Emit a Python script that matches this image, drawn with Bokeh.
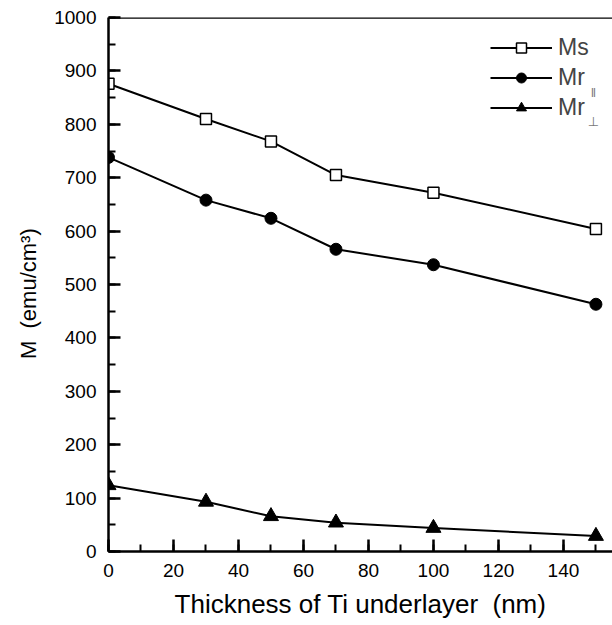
from bokeh.plotting import figure
from bokeh.models import (Legend, LegendItem, Label, Span, Range1d,
                          SingleIntervalTicker)
from bokeh.embed import file_html
from bokeh.resources import INLINE

# ---- data ----
thickness = [0, 30, 50, 70, 100, 150]
ms = [876, 810, 768, 705, 672, 604]
mr_par = [738, 658, 624, 566, 537, 463]
mr_perp = [124, 93, 66, 54, 44, 29]

x_ticks_interval = 20
y_ticks_interval = 100

FONT = "Liberation Sans"

p = figure(frame_width=504, frame_height=534,
           min_border_left=108, min_border_right=0,
           min_border_top=17, min_border_bottom=60,
           x_range=Range1d(0, 155.1), y_range=Range1d(0, 1000),
           output_backend="svg", toolbar_location=None)

p.grid.visible = False
p.outline_line_color = None
p.background_fill_color = "white"
p.border_fill_color = "white"

p.xaxis.ticker = SingleIntervalTicker(interval=x_ticks_interval, num_minor_ticks=2)
p.yaxis.ticker = SingleIntervalTicker(interval=y_ticks_interval, num_minor_ticks=2)

for ax in (p.xaxis[0], p.yaxis[0]):
    ax.axis_line_width = 2.5
    ax.axis_line_color = "black"
    ax.major_tick_in = 12
    ax.major_tick_out = 0
    ax.minor_tick_in = 7
    ax.minor_tick_out = 0
    ax.major_tick_line_width = 2.5
    ax.minor_tick_line_width = 2
    ax.major_tick_line_color = "black"
    ax.minor_tick_line_color = "black"
    ax.major_label_text_font = FONT
    ax.major_label_text_font_size = "19px"
    ax.major_label_text_color = "black"
    ax.axis_label_text_font = FONT
    ax.axis_label_text_font_style = "normal"
    ax.axis_label_text_color = "black"

p.xaxis.axis_label_text_font_size = "26px"
p.yaxis.axis_label_text_font_size = "22px"
p.xaxis.major_label_standoff = 12
p.yaxis.major_label_standoff = 12
p.xaxis.axis_label = "Thickness of Ti underlayer \u00a0(nm)"
p.yaxis.axis_label = "M \u00a0(emu/cm\u00b3)\u00a0\u00a0\u00a0"
p.xaxis.axis_label_standoff = 9
p.yaxis.axis_label_standoff = 10

p.add_layout(Span(location=1000, dimension="width", line_color="black", line_width=2.5))

l1 = p.line(thickness, ms, line_color="black", line_width=2)
m1 = p.scatter(thickness, ms, marker="square", size=11, fill_color="white",
               line_color="black", line_width=1.5)
l2 = p.line(thickness, mr_par, line_color="black", line_width=2)
m2 = p.scatter(thickness, mr_par, marker="circle", size=12, fill_color="black",
               line_color="black")
l3 = p.line(thickness, mr_perp, line_color="black", line_width=2)
m3 = p.scatter(thickness, mr_perp, marker="triangle", size=15, fill_color="black",
               line_color="black")

legend = Legend(items=[LegendItem(label="Ms", renderers=[l1, m1]),
                       LegendItem(label="Mr", renderers=[l2, m2]),
                       LegendItem(label="Mr", renderers=[l3, m3])],
                location=(382, 430), glyph_width=62, glyph_height=25,
                label_height=25, spacing=3, padding=0, margin=0,
                border_line_color=None, background_fill_alpha=0,
                label_standoff=6, label_text_font=FONT,
                label_text_font_size="23px")
p.add_layout(legend)

p.add_layout(Label(x=485, y=459, x_units="screen", y_units="screen", text="\u2016",
                   text_font=FONT, text_font_size="13px", text_align="center",
                   text_baseline="middle", text_color="#777777"))
p.add_layout(Label(x=485, y=430, x_units="screen", y_units="screen", text="\u22a5",
                   text_font="DejaVu Sans", text_font_size="13px", text_align="center",
                   text_baseline="middle", text_color="#777777"))

open("out.html", "w").write(file_html(p, INLINE))
